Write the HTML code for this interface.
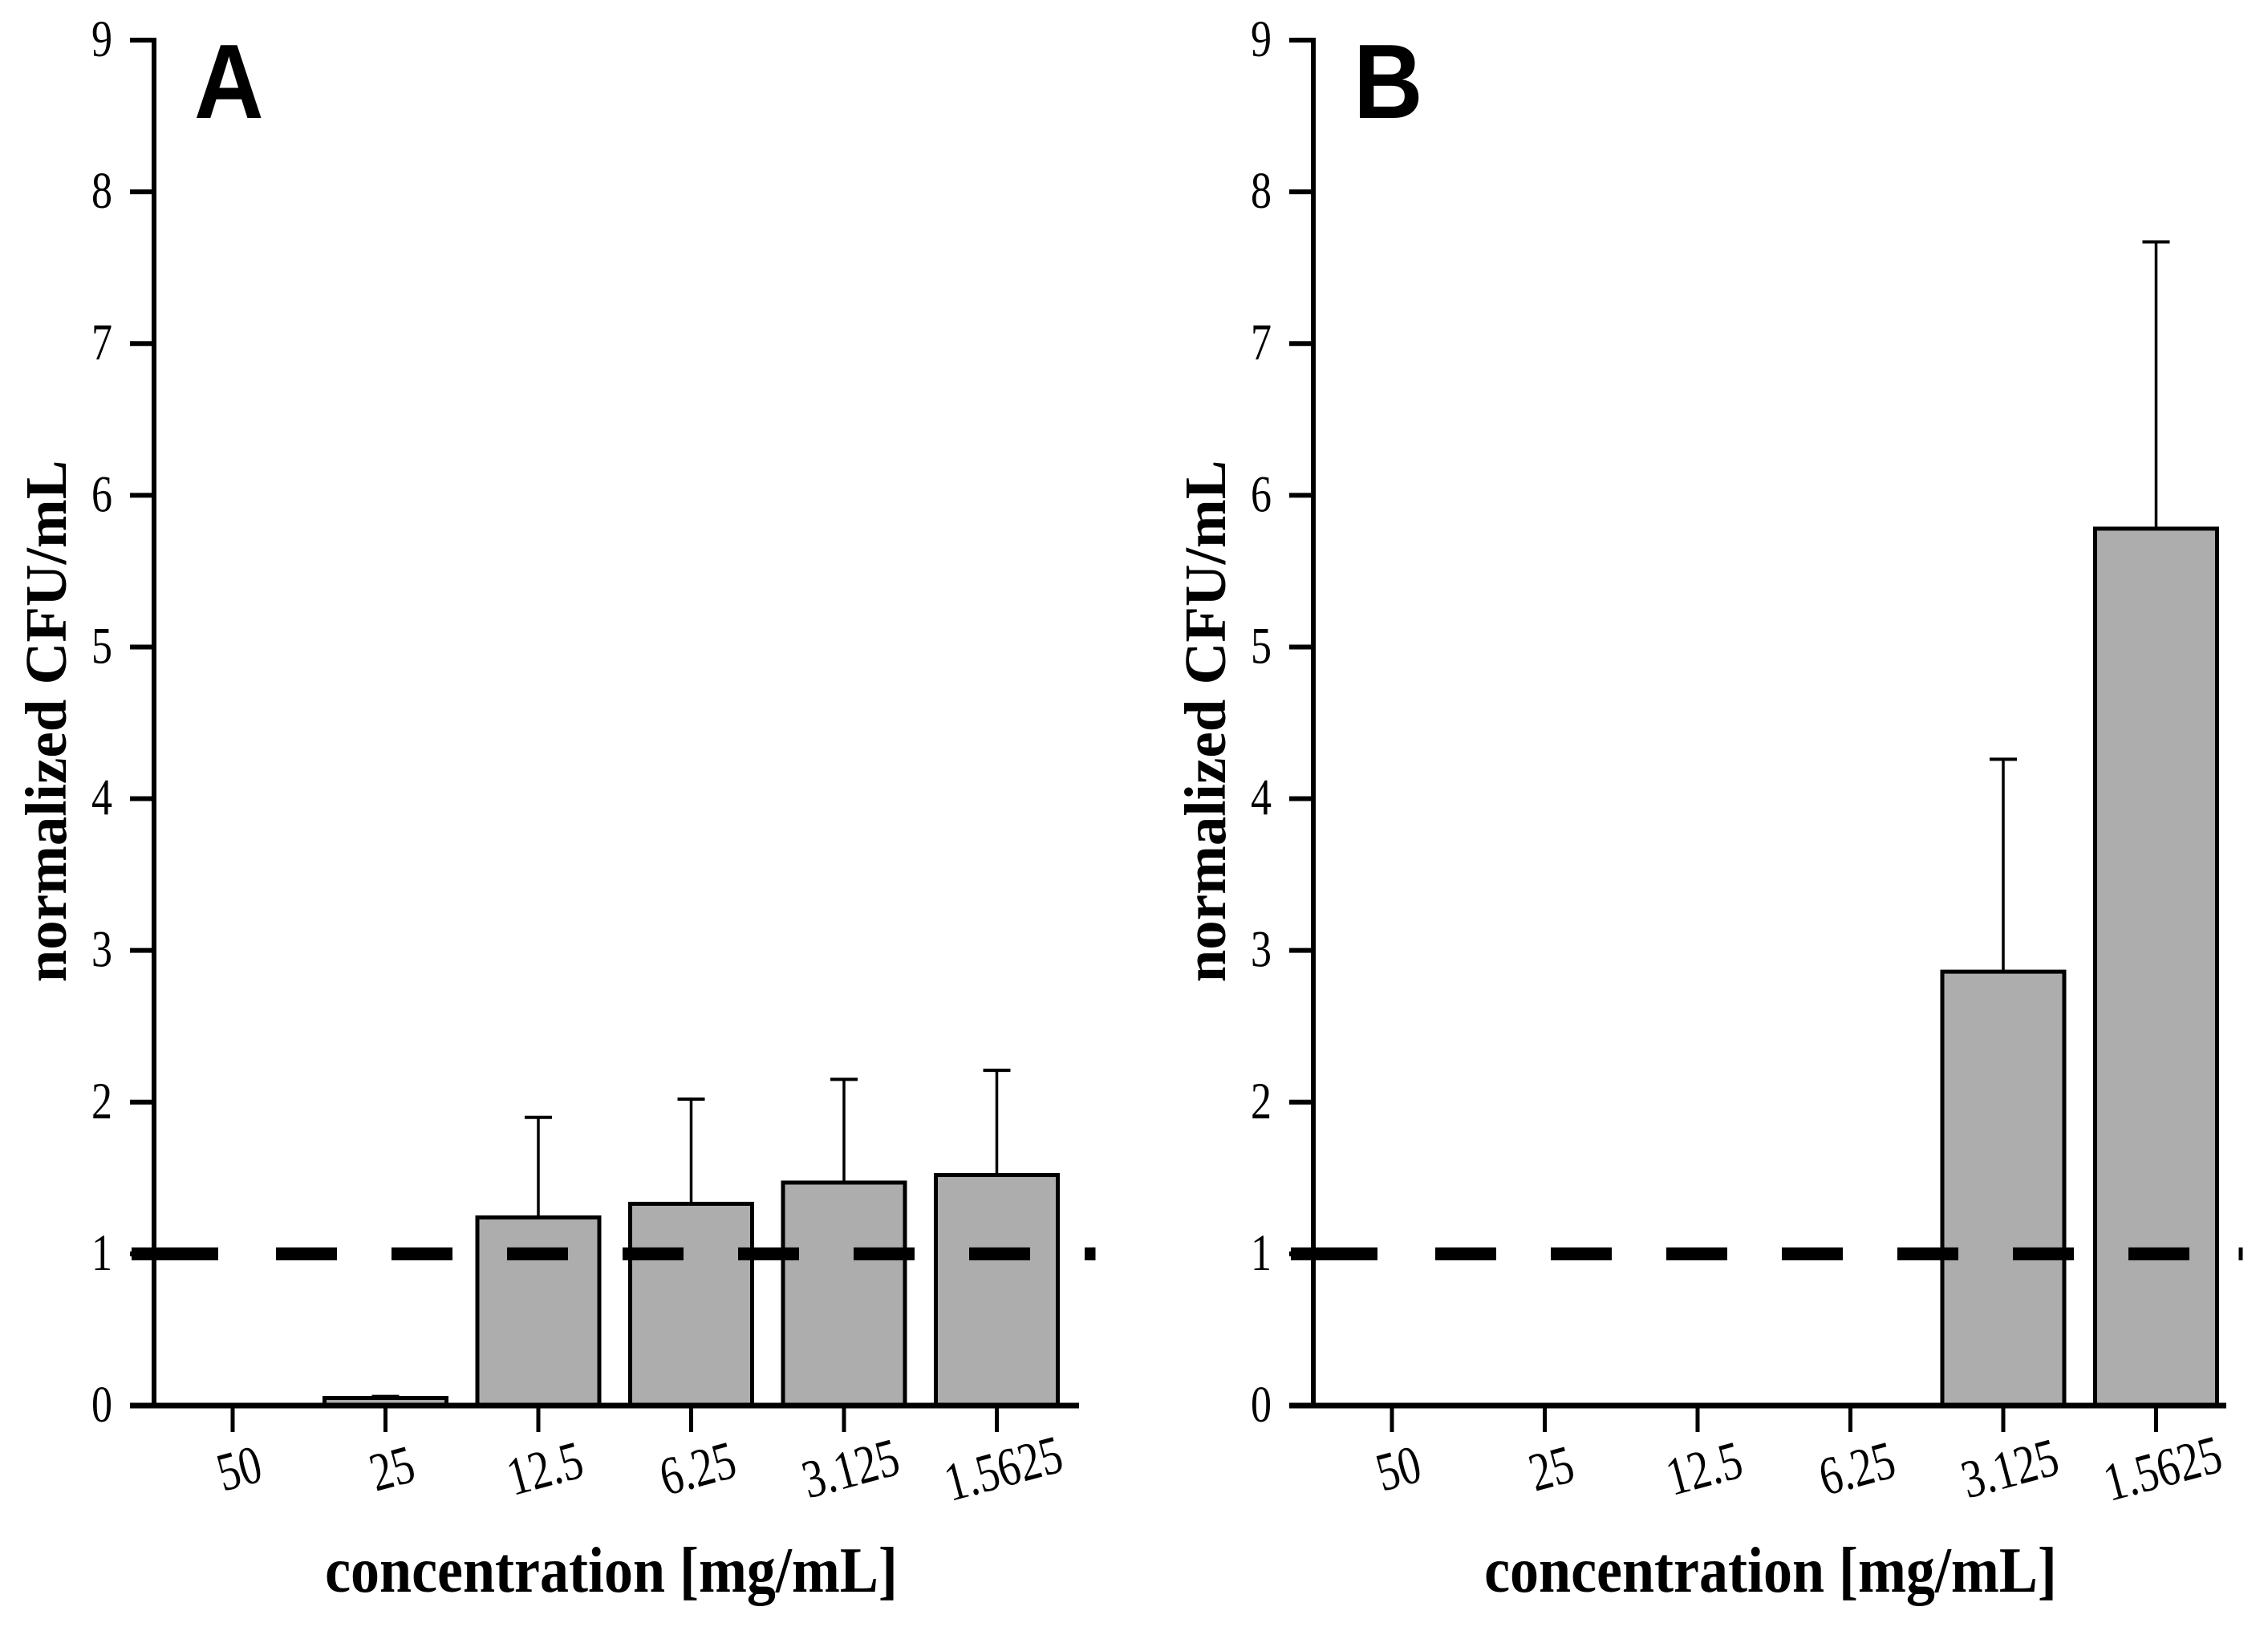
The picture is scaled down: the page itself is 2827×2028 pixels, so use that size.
<!DOCTYPE html>
<html><head><meta charset="utf-8"><style>
html,body{margin:0;padding:0;background:#fff;}
svg{display:block;}
</style></head><body>
<svg id="chart" width="2827" height="2028" viewBox="0 0 2827 2028" xmlns="http://www.w3.org/2000/svg"></svg>
<script>
const categories = ["50","25","12.5","6.25","3.125","1.5625"];
const valuesA = [0, 0.05, 1.24, 1.33, 1.47, 1.52];
const errTopA = [null, 0.06, 1.90, 2.02, 2.15, 2.21];
const valuesB = [0, 0, 0, 0, 2.86, 5.78];
const errTopB = [null, null, null, null, 4.26, 7.67];
const yTicks = [0,1,2,3,4,5,6,7,8,9];
const refLine = 1;

const NS = "http://www.w3.org/2000/svg";
const svg = document.getElementById("chart");
function mk(tag, attrs, parent){
  const e = document.createElementNS(NS, tag);
  for (const k in attrs) e.setAttribute(k, attrs[k]);
  (parent||svg).appendChild(e);
  return e;
}
const y0 = 1752, yTop = 50;
function yScale(v){ return y0 - (y0 - yTop) * v / 9; }

function panel(axisX, label, values, errTop, key, axisLen){
  const g = mk("g", {});
  
  
  function xScale(i){ return axisX + 98 + i * 190.5; }
  values.forEach((v, i) => {
    if (v <= 0) return;
    const cx = xScale(i), w = 152;
    const r = mk("rect", {x: cx - w/2, y: yScale(v), width: w, height: y0 - yScale(v), fill: "#adadad", stroke: "#000", "stroke-width": 5}, g);
    
    
    if (errTop[i] != null) {
      const e = mk("g", {}, g);
      
      
      mk("line", {x1: cx, x2: cx, y1: yScale(v), y2: yScale(errTop[i]), stroke: "#000", "stroke-width": 3.5}, e);
      mk("line", {x1: cx - 17, x2: cx + 17, y1: yScale(errTop[i]), y2: yScale(errTop[i]), stroke: "#000", "stroke-width": 4}, e);
    }
  });
  const ya = mk("g", {}, g);
  
  
  mk("line", {x1: axisX, x2: axisX, y1: yScale(9) - 3, y2: y0 + 3, stroke: "#000", "stroke-width": 6}, ya);
  yTicks.forEach(t => {
    mk("line", {x1: axisX - 30, x2: axisX, y1: yScale(t), y2: yScale(t), stroke: "#000", "stroke-width": 6}, ya);
    const tx = mk("text", {x: 0, y: 0, "text-anchor": "end", "font-family": "Liberation Serif, serif", "font-size": 52, transform: "translate(" + (axisX - 52) + "," + (yScale(t) + 20) + ") scale(1,1.25)"}, ya);
    tx.textContent = t;
    
    
  });
  const xa = mk("g", {}, g);
  
  
  mk("line", {x1: axisX - 30, x2: axisX + axisLen, y1: y0, y2: y0, stroke: "#000", "stroke-width": 7}, xa);
  categories.forEach((c, i) => {
    const cx = xScale(i);
    mk("line", {x1: cx, x2: cx, y1: y0, y2: y0 + 33, stroke: "#000", "stroke-width": 5}, xa);
    const tx = mk("text", {x: 0, y: 0, "text-anchor": "middle", "font-family": "Liberation Serif, serif", "font-size": 54, transform: "translate(" + (cx + 14) + "," + (y0 + 100) + ") rotate(-15) scale(1,1.25)"}, xa);
    tx.textContent = c;
    
    
  });
  const ref = mk("line", {x1: axisX - 28, x2: axisX + axisLen + 20, y1: yScale(refLine), y2: yScale(refLine), stroke: "#000", "stroke-width": 16, "stroke-dasharray": "108 72 76 68 76 68 76 68 76 68 76 68 76 68 76 68 76 68"}, g);
  
  
  mk("line", {x1: axisX + axisLen + 18, x2: axisX + axisLen + 18, y1: yScale(refLine) - 8, y2: yScale(refLine) + 8, stroke: "#000", "stroke-width": 5}, g);
  const yt = mk("text", {x: 0, y: 0, "text-anchor": "middle", "font-family": "Liberation Serif, serif", "font-size": 73, "font-weight": "bold", transform: "translate(" + (axisX - 110) + ",899) rotate(-90)"}, g);
  yt.textContent = "normalized CFU/mL";
  
  
  const xt = mk("text", {x: 0, y: 0, "text-anchor": "middle", "font-family": "Liberation Serif, serif", "font-size": 72, "font-weight": "bold", transform: "translate(" + (axisX + 570) + ",1984) scale(1,1.12)"}, g);
  xt.textContent = "concentration [mg/mL]";
  
  
  const pl = mk("text", {x: 0, y: 0, "font-family": "Liberation Sans, sans-serif", "font-size": 120, "font-weight": "bold", transform: "translate(" + (axisX + 50) + ",147) scale(1,1.1)"}, g);
  pl.textContent = label;
  
  
}
panel(192, "A", valuesA, errTopA, "a", 1153);
panel(1637, "B", valuesB, errTopB, "b", 1138);
</script>
</body></html>
